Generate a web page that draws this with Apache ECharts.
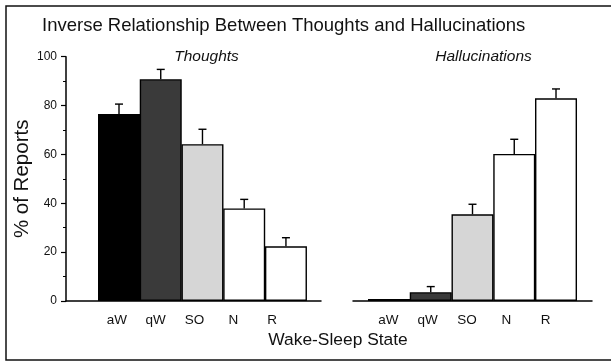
<!DOCTYPE html>
<html>
<head>
<meta charset="utf-8">
<script src="https://cdn.jsdelivr.net/npm/echarts@6/dist/echarts.min.js"></script>
<style>
  html, body { margin: 0; padding: 0; background: #fff; }
  #chart { width: 611px; height: 362px; }
</style>
</head>
<body>
<div id="chart"></div>
<script>
// Wake-sleep states on the x axis
const categories = ['aW', 'qW', 'SO', 'N', 'R'];
// Mean % of reports containing thoughts, and the SEM above each bar
const thoughts = [76.5, 90.8, 64.2, 37.9, 22.4];
const thoughtsErr = [4.1, 4.0, 6.1, 3.7, 3.5];
// Mean % of reports containing hallucinations, and the SEM above each bar
const hallucinations = [0.8, 3.6, 35.5, 60.2, 83.0];
const hallucinationsErr = [0, 2.3, 4.1, 6.0, 3.8];
// Y-axis ticks
const yMin = 0, yMax = 100, yStep = 20;

const FONT = '"Liberation Sans", Arial, Helvetica, sans-serif';
const fills = ['#000000', '#3a3a3a', '#d6d6d6', '#ffffff', '#ffffff'];

function barData(values) {
  return values.map((v, i) => ({
    value: [i, v],
    itemStyle: { color: fills[i], borderColor: '#000', borderWidth: 1.4 }
  }));
}
function errData(values, errs) {
  return values.map((v, i) => [i, v, v + errs[i]]);
}
function renderErr(params, api) {
  const lo = api.coord([api.value(0), api.value(1)]);
  const hi = api.coord([api.value(0), api.value(2)]);
  if (api.value(2) - api.value(1) <= 0) return null;
  const style = { stroke: '#000', lineWidth: 1.4 };
  return {
    type: 'group',
    children: [
      { type: 'line', shape: { x1: lo[0], y1: lo[1], x2: hi[0], y2: hi[1] }, style },
      { type: 'line', shape: { x1: hi[0] - 4, y1: hi[1], x2: hi[0] + 4, y2: hi[1] }, style }
    ]
  };
}

const axisBlack = { lineStyle: { color: '#000', width: 1.5 } };
const gridTop = 56.7, gridBottom = 61;

const option = {
  backgroundColor: '#fff',
  animation: false,
  textStyle: { fontFamily: FONT },
  title: [
    { text: 'Inverse Relationship Between Thoughts and Hallucinations', left: 42, top: 16, padding: 0,
      textStyle: { fontSize: 18.5, fontWeight: 'normal', color: '#111', fontFamily: FONT } },
    { text: 'Thoughts', left: 206.5, top: 48.5, textAlign: 'center', padding: 0,
      textStyle: { fontSize: 15.5, fontStyle: 'italic', fontWeight: 'normal', color: '#111', fontFamily: FONT } },
    { text: 'Hallucinations', left: 483.5, top: 48.5, textAlign: 'center', padding: 0,
      textStyle: { fontSize: 15.5, fontStyle: 'italic', fontWeight: 'normal', color: '#111', fontFamily: FONT } },
    { text: 'Wake-Sleep State', left: 338, top: 332, textAlign: 'center', padding: 0,
      textStyle: { fontSize: 17.4, fontWeight: 'normal', color: '#111', fontFamily: FONT } }
  ],
  graphic: [
    { type: 'rect', shape: { x: 6, y: 6, width: 614, height: 354 },
      style: { fill: 'none', stroke: '#111', lineWidth: 1.5 }, silent: true }
  ],
  grid: [
    { left: 66, right: 290, top: gridTop, bottom: gridBottom },
    { left: 97.6, right: 319.6, top: gridTop, bottom: gridBottom },
    { left: 353, right: 19, top: gridTop, bottom: gridBottom },
    { left: 368.6, right: 45.6, top: gridTop, bottom: gridBottom }
  ],
  xAxis: [
    { type: 'value', gridIndex: 0, min: -1.27, max: 4.84, axisLine: { show: true, onZero: false, ...axisBlack },
      axisTick: { show: false }, axisLabel: { show: false }, splitLine: { show: false } },
    { type: 'category', gridIndex: 1, data: categories, axisLine: { show: false }, axisTick: { show: false },
      axisLabel: { color: '#111', fontSize: 13.5, margin: 12, fontFamily: FONT } },
    { type: 'value', gridIndex: 2, min: -0.862, max: 4.862, axisLine: { show: true, onZero: false, ...axisBlack },
      axisTick: { show: false }, axisLabel: { show: false }, splitLine: { show: false } },
    { type: 'category', gridIndex: 3, data: categories, axisLine: { show: false }, axisTick: { show: false },
      axisLabel: { color: '#111', fontSize: 13.5, margin: 12, fontFamily: FONT } }
  ],
  yAxis: [
    { type: 'value', gridIndex: 0, min: yMin, max: yMax, interval: yStep,
      name: '% of Reports', nameLocation: 'middle', nameGap: 29,
      nameTextStyle: { fontSize: 20.5, color: '#111', fontFamily: FONT },
      axisLine: { show: true, onZero: false, ...axisBlack },
      axisTick: { show: true, length: 5, lineStyle: { color: '#000', width: 1.2 } },
      minorTick: { show: true, splitNumber: 2, length: 3, lineStyle: { color: '#000', width: 1 } },
      axisLabel: { color: '#111', fontSize: 12, margin: 9, fontFamily: FONT },
      splitLine: { show: false } },
    { type: 'value', gridIndex: 1, min: yMin, max: yMax, show: false },
    { type: 'value', gridIndex: 2, min: yMin, max: yMax, show: false },
    { type: 'value', gridIndex: 3, min: yMin, max: yMax, show: false }
  ],
  series: [
    { name: 'Thoughts', type: 'bar', xAxisIndex: 0, yAxisIndex: 0, barWidth: 42,
      data: barData(thoughts) },
    { name: 'Thoughts SEM', type: 'custom', xAxisIndex: 0, yAxisIndex: 0, z: 3,
      renderItem: renderErr, data: errData(thoughts, thoughtsErr) },
    { name: 'Hallucinations', type: 'bar', xAxisIndex: 2, yAxisIndex: 2, barWidth: 42,
      data: barData(hallucinations) },
    { name: 'Hallucinations SEM', type: 'custom', xAxisIndex: 2, yAxisIndex: 2, z: 3,
      renderItem: renderErr, data: errData(hallucinations, hallucinationsErr) }
  ]
};

const chart = echarts.init(document.getElementById('chart'), null, { renderer: 'canvas' });
chart.setOption(option);
</script>
</body>
</html>
